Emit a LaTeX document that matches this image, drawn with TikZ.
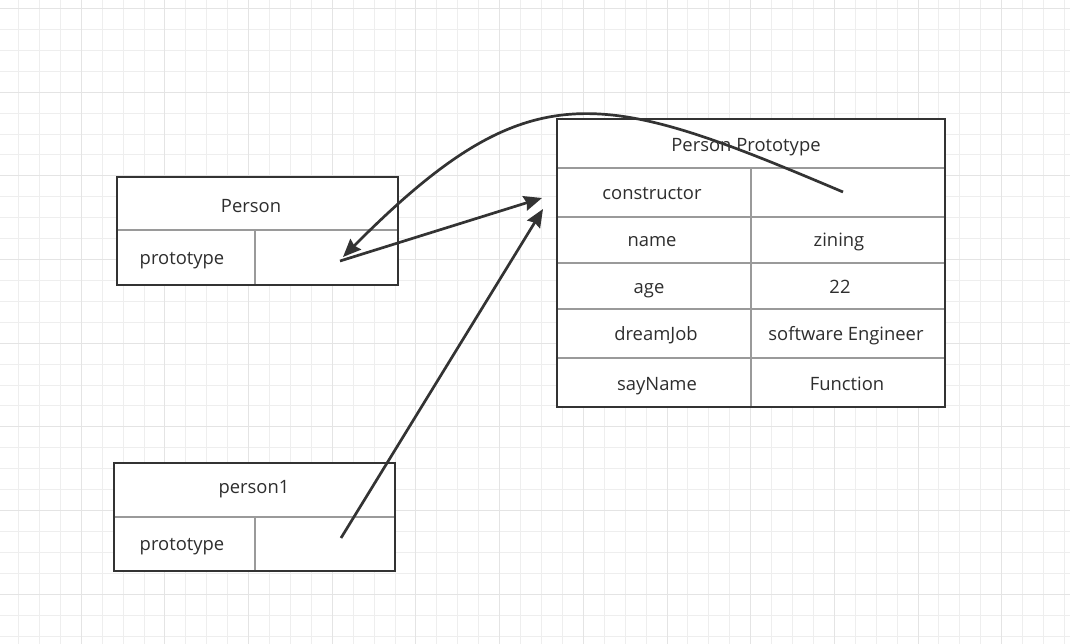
\documentclass[tikz,border=0pt]{standalone}
\usepackage{fontspec}
\setmainfont{Open Sans}
\usetikzlibrary{arrows.meta}

\definecolor{ink}{HTML}{333333}
\definecolor{rulegray}{HTML}{9A9A9A}
\definecolor{gridminor}{HTML}{EEEEEE}
\definecolor{gridmajor}{HTML}{E4E4E4}

\begin{document}
\begin{tikzpicture}[x=1pt,y=-1pt,>={Stealth[length=18pt,width=15pt,inset=2pt]},
	txt/.style={font=\fontsize{18.4}{22}\selectfont,text=ink!90!black,inner sep=0pt,anchor=base},
	frame/.style={draw=ink,line width=2.8pt},
	rule/.style={draw=rulegray,line width=1.4pt},
	link/.style={draw=ink,line width=2.7pt,->}]

	\useasboundingbox [fill=white] (0,0) rectangle (1070,644);

	% background grid
	\def\gap{20.92}
	\foreach \k in {0,...,50}
	\draw [gridminor,line width=1.2pt] ({round(18+\gap*\k)+0.5},0) -- ++(0,644);
	\foreach \k in {0,...,30}
	\draw [gridminor,line width=1.2pt] (0,{round(8+\gap*\k)+0.5}) -- ++(1070,0);
	\foreach \k in {3,7,...,51}
	\draw [gridmajor,line width=1.2pt] ({round(18+\gap*\k)+0.5},0) -- ++(0,644);
	\foreach \k in {0,4,...,30}
	\draw [gridmajor,line width=1.2pt] (0,{round(8+\gap*\k)+0.5}) -- ++(1070,0);

	% Person
	\fill [white] (117,177) rectangle (398,285);
	\draw [rule] (117,230) -- (398,230) (255,230) -- (255,285);
	\draw [frame] (117,177) rectangle (398,285);
	\node [txt] (person) at (251,213) {Person};
	\node [txt] (personkey) at (182,265) {prototype};
	\coordinate (personslot) at (340,261);
	\coordinate (persontip) at (343,257);

	% person1
	\fill [white] (114,463) rectangle (395,571);
	\draw [rule] (114,517) -- (395,517) (255,517) -- (255,571);
	\draw [frame] (114,463) rectangle (395,571);
	\node [txt] (instance) at (254,493) {person1};
	\node [txt] (instancekey) at (182,550) {prototype};
	\coordinate (instanceslot) at (341,538);

	% Person Prototype
	\fill [white] (557,119) rectangle (945,407);
	\foreach \y in {168,217,263,309,358}
	\draw [rule] (557,\y) -- (945,\y);
	\draw [rule] (751,168) -- (751,407);
	\draw [frame] (557,119) rectangle (945,407);
	\node [txt] (proto) at (746,152) {Person Prototype};
	\node [txt] (ctor) at (652,200) {constructor};
	\node [txt] (name) at (652,247) {name};
	\node [txt] (nameval) at (839,247) {zining};
	\node [txt] (age) at (649,293) {age};
	\node [txt] (ageval) at (840,293) {22};
	\node [txt] (job) at (656,340) {dreamJob};
	\node [txt] (jobval) at (846,340) {software Engineer};
	\node [txt] (say) at (657,390) {sayName};
	\node [txt] (sayval) at (847,390) {Function};
	\coordinate (ctorslot) at (843,192);
	\coordinate (protoin) at (542,198);
	\coordinate (protoin2) at (543,209);

	% links
	\draw [link] (personslot) -- (protoin);
	\draw [link] (instanceslot) -- (protoin2);
	\draw [link] (ctorslot) .. controls (600,89) and (530,69) .. (persontip);

\end{tikzpicture}
\end{document}
